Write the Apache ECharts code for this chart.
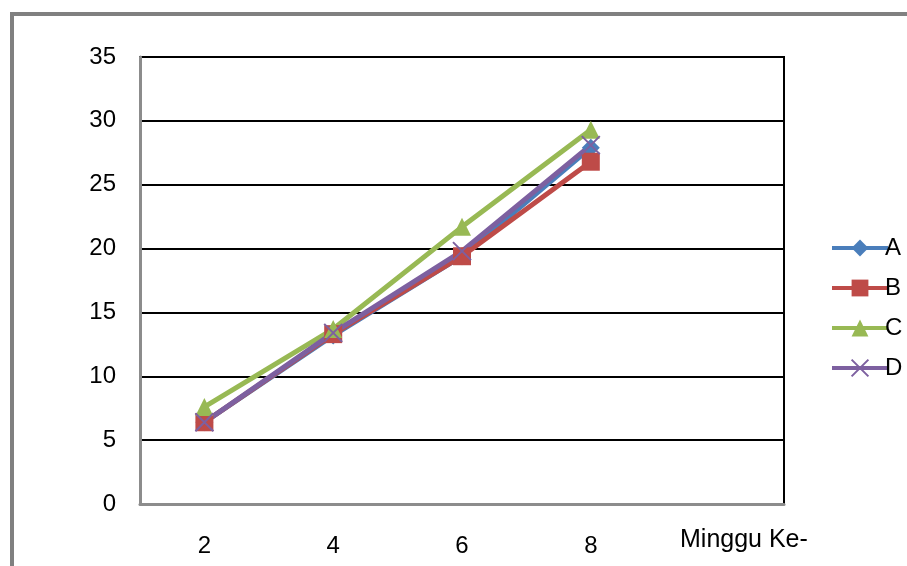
<!DOCTYPE html>
<html><head><meta charset="utf-8">
<script src="https://cdn.jsdelivr.net/npm/echarts@6/dist/echarts.min.js"></script>
<style>html,body{margin:0;padding:0;background:#fff}#c{width:907px;height:566px}</style>
</head><body><div id="c"></div>
<script>
const categories = ['2', '4', '6', '8', ''];
const seriesA = [6.4, 13.2, 19.4, 27.9];
const seriesB = [6.4, 13.3, 19.4, 26.8];
const seriesC = [7.6, 13.7, 21.7, 29.3];
const seriesD = [6.4, 13.4, 19.8, 28.1];
const yTicks = [0, 5, 10, 15, 20, 25, 30, 35];
const xTitle = 'Minggu Ke-';

const font = '"Liberation Sans", Arial, sans-serif';
const chart = echarts.init(document.getElementById('c'), null, {renderer: 'canvas'});
function mk(name, data, color, symbol, size, bw) {
  return {
    name, type: 'line', data, symbol, symbolSize: size,
    lineStyle: {color, width: 5},
    itemStyle: {color, borderColor: color, borderWidth: bw || 0},
    emphasis: {disabled: true}
  };
}
chart.setOption({
  animation: false,
  graphic: [{
    type: 'rect', shape: {x: 12, y: 14, width: 1000, height: 1000},
    style: {fill: 'none', stroke: '#808080', lineWidth: 4}, z: 100
  }],
  grid: {left: 140, top: 57, right: 123, bottom: 62, show: true, borderColor: '#000', borderWidth: 2, backgroundColor: '#fff'},
  legend: {
    orient: 'vertical', left: 830, top: 236, padding: 0, itemGap: 16, itemWidth: 56, itemHeight: 21,
    lineStyle: {width: 4},
    textStyle: {fontFamily: font, fontSize: 24, color: '#000', padding: [0, 0, 0, -8]},
    data: ['A', 'B', 'C', 'D']
  },
  xAxis: {
    type: 'category', data: categories, boundaryGap: true,
    name: xTitle, nameLocation: 'end', nameGap: -104,
    nameTextStyle: {fontFamily: font, fontSize: 25, color: '#000', verticalAlign: 'top', padding: [24, 0, 0, 0]},
    axisLine: {lineStyle: {color: '#8c8c8c', width: 3}},
    axisTick: {show: false},
    axisLabel: {fontFamily: font, fontSize: 24, color: '#000', margin: 30},
    splitLine: {show: false}
  },
  yAxis: {
    type: 'value', min: yTicks[0], max: yTicks[yTicks.length - 1], interval: 5,
    axisLine: {show: true, lineStyle: {color: '#8c8c8c', width: 3}},
    axisTick: {show: false},
    axisLabel: {fontFamily: font, fontSize: 24, color: '#000', margin: 24},
    splitLine: {lineStyle: {color: '#000', width: 2}}
  },
  series: [
    mk('A', seriesA, '#4a7ebb', 'diamond', 18),
    mk('B', seriesB, '#be4b48', 'rect', 18),
    mk('C', seriesC, '#98b954', 'triangle', 18),
    mk('D', seriesD, '#7d60a0', 'path://M0,0L10,10M10,0L0,10', 18, 2)
  ]
});
</script></body></html>
